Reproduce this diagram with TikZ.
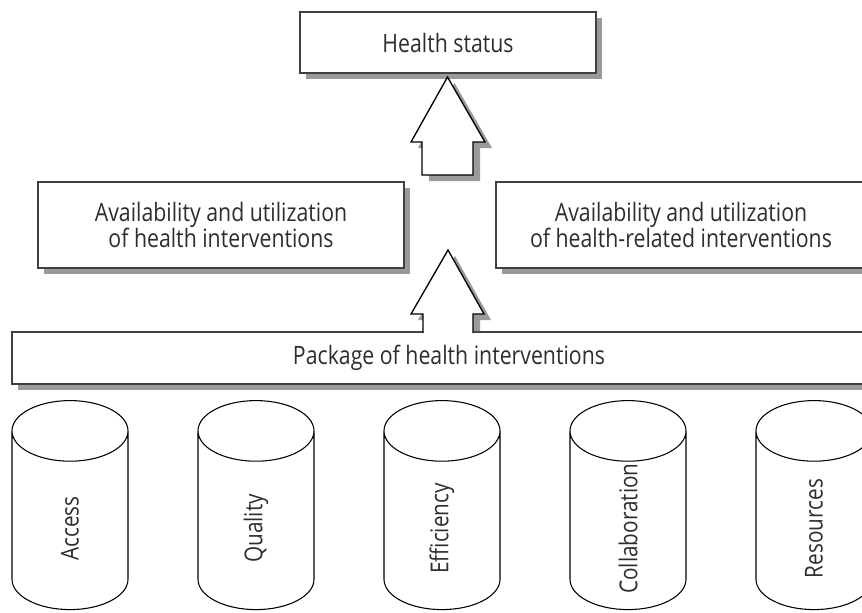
\documentclass[tikz,border=0pt]{standalone}
\usepackage{fontspec}
\setmainfont[FakeStretch=0.84]{Open Sans}
\usetikzlibrary{shapes.geometric,shadows}

\definecolor{edgegray}{HTML}{404040}
\definecolor{shadowgray}{HTML}{9A9A9A}
\definecolor{inkgray}{HTML}{2E2E2E}

\tikzset{
  panel/.style={draw=edgegray, line width=1.5pt, fill=white, align=center,
    text=inkgray, inner sep=0pt, font=\fontsize{19}{19.5}\selectfont,
    drop shadow={shadow xshift=4.5pt, shadow yshift=-4.5pt, fill=shadowgray, opacity=1}},
  pillar/.style={cylinder, rotate=90, draw=black, line width=0.8pt, fill=white,
    aspect=2.5, minimum width=87pt, minimum height=156.75pt, inner sep=0pt,
    font=\fontsize{19}{19.5}\selectfont},
  pillarlabel/.style={rotate=90, inner sep=0pt, text=inkgray,
    font=\fontsize{18.5}{19}\selectfont},
  blockarrow/.style={draw=black, line width=1pt, fill=white, line join=miter}
}

\begin{document}
\begin{tikzpicture}[x=0.75pt,y=-0.75pt]
    \useasboundingbox (0,0) rectangle (862,612);

    % Boxes
    \node[panel, minimum width=222pt, minimum height=45.75pt] (status) at (448,42.5) {Health status};
    \node[panel, minimum width=274.5pt, minimum height=64.5pt] (avail) at (221,225)
      {Availability and utilization\\of health interventions};
    \node[panel, minimum width=277.5pt, minimum height=64.5pt] (related) at (681,225)
      {Availability and utilization\\of health-related interventions};
    \node[panel, minimum width=655.5pt, minimum height=39pt] (package) at (449,358)
      {Package of health interventions};

    % Upper block arrow
    \fill[shadowgray, shift={(7,6)}] (422,175) -- (422,142) -- (411,142) -- (447.5,77)
      -- (485,142) -- (473,142) -- (473,175) -- cycle;
    \filldraw[blockarrow] (422,175) -- (422,142) -- (411,142) -- (447.5,77)
      -- (485,142) -- (473,142) -- (473,175) -- cycle;

    % Lower block arrow, open into the package box
    \fill[shadowgray, shift={(7,6)}] (423,325) -- (423,314) -- (411,314) -- (448,250)
      -- (484,314) -- (473,314) -- (473,325) -- cycle;
    \fill[white] (423,334) -- (423,314) -- (411,314) -- (448,250)
      -- (484,314) -- (473,314) -- (473,334) -- cycle;
    \draw[blockarrow, fill=none] (423,333) -- (423,314) -- (411,314) -- (448,250)
      -- (484,314) -- (473,314) -- (473,333);

    % Pillars
    \foreach \name/\lbl [count=\i from 0] in {access/Access, quality/Quality,
        efficiency/Efficiency, collab/Collaboration, resources/Resources} {
      \node[pillar] (\name) at (70+186*\i,520.5) {\phantom{Ag}};
      \node[pillarlabel] (\name-txt) at ([yshift=-6pt]\name.center) {\lbl};
    }
\end{tikzpicture}
\end{document}
